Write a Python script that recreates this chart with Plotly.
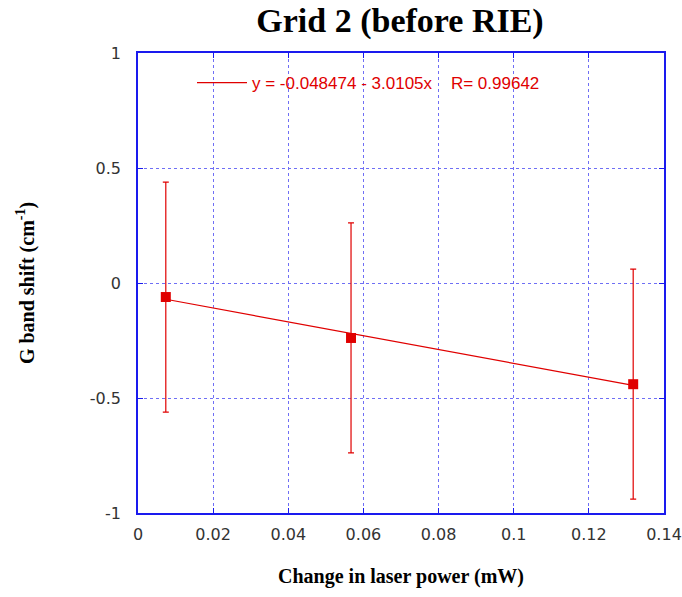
import numpy as np
import plotly.graph_objects as go

# Data
laser_power = [0.0074, 0.0567, 0.1318]
g_shift = [-0.061, -0.239, -0.44]
g_err = [0.5, 0.5, 0.5]
fit_intercept = -0.048474
fit_slope = -3.0105
fit_R = 0.99642

x_ticks = [0, 0.02, 0.04, 0.06, 0.08, 0.1, 0.12, 0.14]
x_tick_labels = ["0", "0.02", "0.04", "0.06", "0.08", "0.1", "0.12", "0.14"]
y_ticks = [-1, -0.5, 0, 0.5, 1]
y_tick_labels = ["-1", "-0.5", "0", "0.5", "1"]

RED = "#e00000"
BLUE = "#1a1aee"
GRID = "#6f6ff5"
SERIF = "Liberation Serif, Times New Roman, serif"
SANS = "DejaVu Sans, Verdana, sans-serif"

fit_x = np.array([laser_power[0], laser_power[-1]])
fit_y = fit_intercept + fit_slope * fit_x

fig = go.Figure()
fig.add_trace(go.Scatter(
    x=fit_x, y=fit_y, mode="lines",
    line=dict(color=RED, width=1.2),
    name=f"y = {fit_intercept} - {abs(fit_slope)}x\u00a0\u00a0\u00a0 R= {fit_R}",
    showlegend=True,
))
fig.add_trace(go.Scatter(
    x=laser_power, y=g_shift, mode="markers",
    marker=dict(symbol="square", size=10, color=RED),
    error_y=dict(type="data", array=g_err, visible=True, color=RED, thickness=1.2, width=3),
    showlegend=False,
))

axis_common = dict(
    showline=True, linecolor=BLUE, linewidth=1.5, mirror="ticks",
    ticks="inside", ticklen=5, tickcolor=BLUE, tickwidth=1,
    showgrid=True, gridcolor=GRID, griddash="dot", gridwidth=1,
    zeroline=False, automargin=False, ticklabeloverflow="allow",
    tickfont=dict(family=SANS, size=16, color="#333333"),
)

fig.update_layout(
    width=682, height=597,
    margin=dict(l=138, r=18, t=53, b=84),
    paper_bgcolor="white", plot_bgcolor="white",
    title=dict(text="<b>Grid 2 (before RIE)</b>", x=400 / 682, xanchor="center",
               y=1 - 20 / 597, yanchor="middle",
               font=dict(family=SERIF, size=34, color="black")),
    xaxis=dict(range=[0, 0.14], tickvals=x_ticks, ticktext=x_tick_labels,
               ticklabelstandoff=6,
               title=dict(text="<b>Change in laser power (mW)</b>", standoff=26,
                          font=dict(family=SERIF, size=20, color="black")),
               **axis_common),
    yaxis=dict(range=[-1, 1], tickvals=y_ticks, ticktext=y_tick_labels,
               ticklabelstandoff=12,
               title=dict(text="<b>G band shift (cm<sup>-1</sup>)</b>", standoff=50,
                          font=dict(family=SERIF, size=20, color="black")),
               **axis_common),
    legend=dict(x=(197 - 138 - 5) / 526, y=1 - 30 / 460, xanchor="left", yanchor="middle",
                itemwidth=50,
                bgcolor="rgba(0,0,0,0)", borderwidth=0,
                font=dict(family="Liberation Sans, Arial, sans-serif", size=17, color=RED)),
    showlegend=True,
)

fig.write_html("out.html")
